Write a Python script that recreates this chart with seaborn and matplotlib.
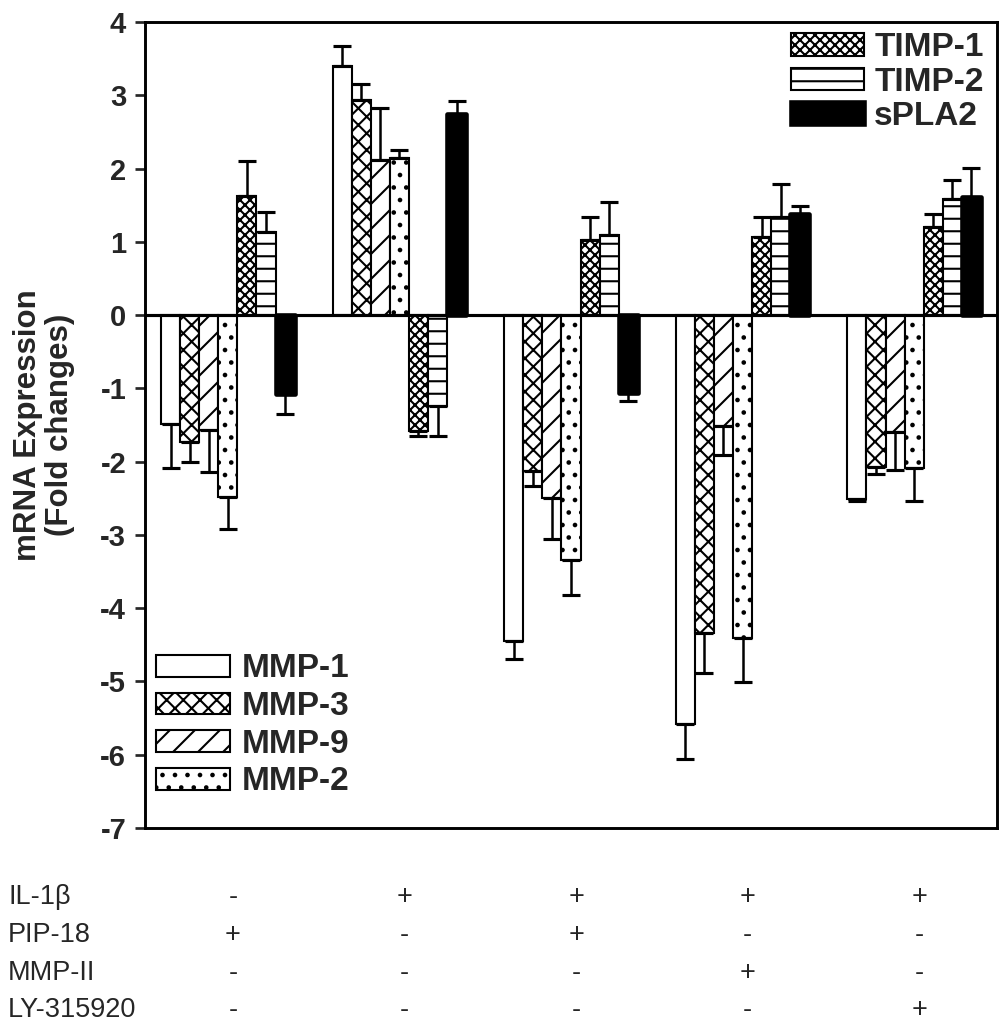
import numpy as np
import pandas as pd
import matplotlib.pyplot as plt
import seaborn as sns
from matplotlib.transforms import blended_transform_factory

# Treatment groups (one cluster of bars each)
conditions = ['PIP-18', 'IL-1b', 'IL-1b+PIP-18', 'IL-1b+MMP-II', 'IL-1b+LY-315920']
genes = ['MMP-1', 'MMP-3', 'MMP-9', 'MMP-2', 'TIMP-1', 'TIMP-2', 'sPLA2']

# Fold changes, one list per gene across the 5 groups
mmp1 = [-1.49, 3.40, -4.45, -5.58, -2.51]
mmp3 = [-1.73, 2.93, -2.13, -4.34, -2.07]
mmp9 = [-1.57, 2.12, -2.50, -1.52, -1.60]
mmp2 = [-2.48, 2.15, -3.34, -4.41, -2.09]
timp1 = [1.62, -1.58, 1.02, 1.06, 1.20]
timp2 = [1.13, -1.24, 1.09, 1.34, 1.58]
spla2 = [-1.08, 2.75, -1.06, 1.38, 1.61]

# Error bar sizes (one-sided, pointing away from zero)
mmp1_err = [0.60, 0.27, 0.25, 0.48, 0.03]
mmp3_err = [0.27, 0.22, 0.20, 0.54, 0.10]
mmp9_err = [0.57, 0.70, 0.55, 0.39, 0.51]
mmp2_err = [0.44, 0.10, 0.48, 0.60, 0.45]
timp1_err = [0.48, 0.07, 0.32, 0.28, 0.18]
timp2_err = [0.28, 0.41, 0.45, 0.45, 0.27]
spla2_err = [0.27, 0.17, 0.11, 0.11, 0.40]

# Treatment table under the plot
table_rows = ['IL-1\u03b2', 'PIP-18', 'MMP-II', 'LY-315920']
il1b = ['-', '+', '+', '+', '+']
pip18 = ['+', '-', '+', '-', '-']
mmpii = ['-', '-', '-', '+', '-']
ly315920 = ['-', '-', '-', '-', '+']

values = [mmp1, mmp3, mmp9, mmp2, timp1, timp2, spla2]
errors = [mmp1_err, mmp3_err, mmp9_err, mmp2_err, timp1_err, timp2_err, spla2_err]

df = pd.DataFrame({
    'condition': np.tile(conditions, len(genes)),
    'gene': np.repeat(genes, len(conditions)),
    'value': np.concatenate(values),
})

sns.set_style('white')
plt.rcParams['font.family'] = ['Liberation Sans', 'DejaVu Sans']
plt.rcParams['hatch.linewidth'] = 1.0

fig, ax = plt.subplots(figsize=(1004 / 150, 1028 / 150), dpi=150)
fig.subplots_adjust(left=0.1444, right=0.993, bottom=0.1946, top=0.9786)

sns.barplot(data=df, x='condition', y='value', hue='gene', order=conditions,
            hue_order=genes, dodge=True, width=7 / 9, gap=0, errorbar=None,
            palette=['white'] * 6 + ['black'], saturation=1,
            edgecolor='black', linewidth=1.0, legend=False, ax=ax)

hatches = ['', 'xxx', '//', '..', 'xxxxx', '--', '']
for cont, h in zip(ax.containers, hatches):
    for p in cont:
        p.set_hatch(h)
for p in ax.containers[6]:
    p.set_linewidth(2.2)
    p.set_joinstyle('round')

# one-sided error bars
for cont, vals, errs in zip(ax.containers, values, errors):
    xs = [p.get_x() + p.get_width() / 2 for p in cont]
    lower = [e if v < 0 else 0 for v, e in zip(vals, errs)]
    upper = [e if v > 0 else 0 for v, e in zip(vals, errs)]
    ax.errorbar(xs, vals, yerr=[lower, upper], fmt='none', ecolor='black',
                elinewidth=1.2, capsize=4.5, capthick=1.5)

ax.axhline(0, color='black', linewidth=1.5, zorder=3)
ax.set_ylim(-7, 4)
ax.set_xlim(-0.483, len(conditions) - 1 + 0.483)
ax.set_yticks(range(-7, 5))
ax.set_yticklabels([str(t) for t in range(-7, 5)], fontsize=14, fontweight='bold')
ax.set_xticks([])
ax.set_xlabel('')
ax.tick_params(axis='y', left=True, direction='out', length=5, width=1.3, pad=4)
for s in ax.spines.values():
    s.set_visible(True)
    s.set_linewidth(1.4)
    s.set_color('black')
ax.set_ylabel('mRNA Expression\n(Fold changes)', fontsize=15, fontweight='bold',
              labelpad=12, linespacing=1.1)

leg_top = ax.legend(handles=ax.containers[4:7], labels=genes[4:7],
                    loc='upper right', bbox_to_anchor=(1.008, 1.012), frameon=False,
                    prop={'size': 16, 'weight': 'bold'}, handlelength=2.2,
                    handleheight=0.65, labelspacing=0.1, handletextpad=0.3,
                    borderaxespad=0.2)
ax.add_artist(leg_top)
ax.legend(handles=ax.containers[0:4], labels=genes[0:4],
          loc='lower left', bbox_to_anchor=(-0.01, 0.013), frameon=False,
          prop={'size': 16, 'weight': 'bold'}, handlelength=2.2,
          handleheight=0.62, labelspacing=0.2, handletextpad=0.35,
          borderaxespad=0.2)

# treatment table
trans = blended_transform_factory(ax.transData, fig.transFigure)
row_y = [0.1274, 0.0905, 0.0535, 0.0175]
tfont = dict(family=['Liberation Sans Narrow', 'Liberation Sans'], fontsize=13)
for label, signs, y in zip(table_rows, [il1b, pip18, mmpii, ly315920], row_y):
    fig.text(0.008, y, label, ha='left', va='center', **tfont)
    for i, s in enumerate(signs):
        ax.text(i + 0.03, y, s, ha='center', va='center', transform=trans,
                clip_on=False, **tfont)

fig.savefig('out.png', dpi=150, facecolor='white')
